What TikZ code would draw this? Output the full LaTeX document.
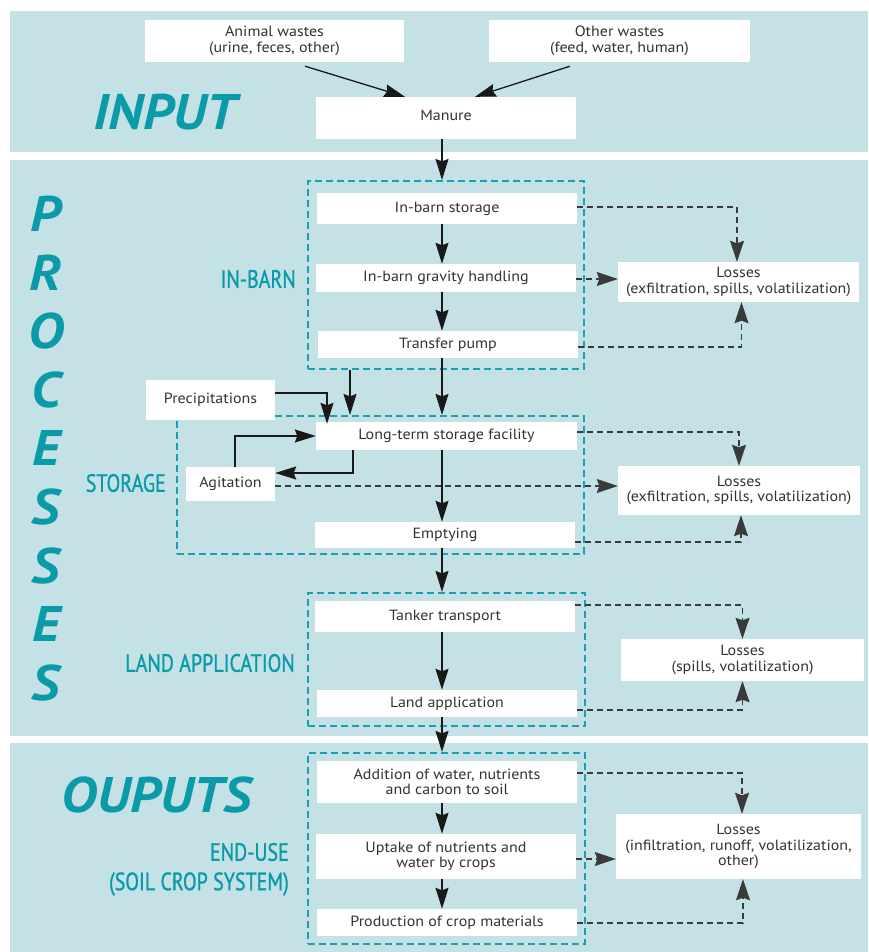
\documentclass[tikz,border=0pt]{standalone}
\usepackage{fontspec}
\setmainfont[FakeStretch=1.08]{PT Sans}
\newfontfamily\condfont[FakeStretch=0.8,FakeBold=1]{PT Sans}
\newfontfamily\bigfnt[FakeStretch=1.1]{PT Sans}
\usetikzlibrary{arrows.meta}
\definecolor{panelc}{HTML}{C4E2E6}
\definecolor{tealtx}{HTML}{0A9AA8}
\definecolor{framec}{HTML}{1AA0B2}
\definecolor{txtc}{HTML}{333333}
\definecolor{dashc}{HTML}{3A3A3A}
\tikzset{
  box/.style={fill=white, draw=none, inner sep=0pt, align=center, text=txtc,
    font=\fontsize{14.8}{15.5}\selectfont},
  grp/.style={draw=framec, line width=2.2pt, dash pattern=on 7pt off 4pt, inner sep=0pt, fill=none},
  arr/.style={-{Stealth[length=21pt,width=13pt,inset=2.5pt]}, line width=1.3pt, draw=black!90},
  dcon/.style={-{Stealth[length=21pt,width=14pt,inset=2.5pt]}, dash pattern=on 6pt off 4pt,
    line width=1.2pt, draw=dashc},
  lbl/.style={text=tealtx, inner sep=0pt, font=\condfont\fontsize{25}{28}\selectfont},
  bigl/.style={text=tealtx, inner sep=0pt, font=\bigfnt\bfseries\itshape\fontsize{50}{52}\selectfont},
}
\begin{document}
\begin{tikzpicture}[x=1pt,y=-1pt]
\useasboundingbox (0,0) rectangle (868,952);
% panels
\fill[panelc] (10,11) rectangle (868,152);
\fill[panelc] (10,160) rectangle (868,736);
\fill[panelc] (10,743) rectangle (868,952);

% INPUT
\node[box, minimum width=259pt, minimum height=42pt] (aw) at (274.5,41) {Animal wastes\\(urine, feces, other)};
\node[box, minimum width=261pt, minimum height=42pt] (ow) at (619.5,41) {Other wastes\\(feed, water, human)};
\node[box, minimum width=260pt, minimum height=42pt] (manure) at (446,118) {\raisebox{6pt}{Manure}};
\node[bigl] (tinput) at (165,112) {INPUT};
\draw[arr] ([xshift=30.5pt,yshift=-4pt]aw.south) -- ([xshift=-41pt]manure.north);
\draw[arr] ([xshift=-49.5pt,yshift=-4pt]ow.south) -- ([xshift=29pt]manure.north);

% group frames
\node[grp, minimum width=276pt, minimum height=188pt] (gInbarn) at (446,275) {};
\node[grp, minimum width=407pt, minimum height=138pt] (gStorage) at (380.5,485) {};
\node[grp, minimum width=277pt, minimum height=133pt] (gLand) at (446.5,659.5) {};
\node[grp, minimum width=277pt, minimum height=191pt] (gEnd) at (446.5,848.5) {};

% PROCESSES letters
\foreach \ch [count=\i from 0] in {P,R,O,C,E,S,S,E,S}
  \node[bigl] (pl\i) at (46,{214+58.6*\i}) {\ch};

% section labels
\node[lbl, anchor=east] (linbarn) at (296,279) {IN-BARN};
\node[lbl, anchor=east] (lstorage) at (166,483) {STORAGE};
\node[lbl, anchor=east] (lland) at (295,663) {LAND APPLICATION};
\node[bigl] (toutputs) at (157,795) {OUPUTS};
\node[lbl, anchor=east] (lend1) at (289,852) {END-USE};
\node[lbl, anchor=east] (lend2) at (289,884) {(SOIL CROP SYSTEM)};

% in-barn boxes
\node[box, minimum width=260pt, minimum height=31pt] (ibs) at (447,208.5) {In-barn storage};
\node[box, minimum width=260pt, minimum height=28pt] (ibg) at (446,278) {In-barn gravity handling};
\node[box, minimum width=260pt, minimum height=27pt] (tp) at (448,344.5) {Transfer pump};
\node[box, minimum width=241pt, minimum height=40pt] (L1) at (738.5,282) {Losses\\(exfiltration, spills, volatilization)};

% storage boxes
\node[box, minimum width=129pt, minimum height=40pt] (prec) at (210.5,400) {Precipitations};
\node[box, minimum width=261pt, minimum height=28pt] (lt) at (446.5,436) {Long-term storage facility};
\node[box, minimum width=89pt, minimum height=34pt] (agit) at (230.5,484) {Agitation};
\node[box, minimum width=260pt, minimum height=26pt] (emp) at (445,535) {Emptying};
\node[box, minimum width=242pt, minimum height=49pt] (L2) at (739,490.5) {Losses\\(exfiltration, spills, volatilization)};

% land application boxes
\node[box, minimum width=260pt, minimum height=31pt] (tt) at (445,616.5) {Tanker transport};
\node[box, minimum width=260pt, minimum height=27pt] (la) at (447,703.5) {Land application};
\node[box, minimum width=243pt, minimum height=42pt] (L3) at (742.5,660) {Losses\\(spills, volatilization)};

% end-use boxes
\node[box, minimum width=260pt, minimum height=42pt] (add) at (447,782) {Addition of water, nutrients\\and carbon to soil};
\node[box, minimum width=260pt, minimum height=45pt] (upt) at (446,856.5) {Uptake of nutrients and\\water by crops};
\node[box, minimum width=260pt, minimum height=27pt] (prod) at (447,922.5) {Production of crop materials};
\node[box, minimum width=245pt, minimum height=65pt] (L4) at (738.5,846.5) {Losses\\(infiltration, runoff, volatilization,\\other)};

% helper coordinates
\coordinate (ax) at (442,0);
\coordinate (bx) at (350,0);
\coordinate (px) at (327,0);
\coordinate (qx) at (353,0);

% main vertical flow
\draw[arr] (manure.south -| ax) -- (gInbarn.north -| ax);
\draw[arr] (ibs.south -| ax) -- (ibg.north -| ax);
\draw[arr] (ibg.south -| ax) -- (tp.north -| ax);
\draw[arr] (tp.south -| ax) -- (gStorage.north -| ax);
\draw[arr] (gInbarn.south -| bx) -- (gStorage.north -| bx);
\draw[arr] (lt.south -| ax) -- (emp.north -| ax);
\draw[arr] (emp.south -| ax) -- (gLand.north -| ax);
\draw[arr] (tt.south -| ax) -- (la.north -| ax);
\draw[arr] (la.south -| ax) -- (gEnd.north -| ax);
\draw[arr] (add.south -| ax) -- (upt.north -| ax);
\draw[arr] (upt.south -| ax) -- (prod.north -| ax);

% storage loop
\coordinate (p1) at ([yshift=7pt]prec.east);
\draw[arr] (p1) -| ([yshift=-2pt]lt.north -| px);
\draw[arr] ([xshift=4.5pt]agit.north) |- (lt.west);
\coordinate (a1) at ([yshift=11pt]agit.east);
\draw[arr] (lt.south -| qx) |- (a1);

% losses connectors: in-barn
\coordinate (c1) at ([yshift=1.5pt]ibs.east);
\draw[dcon] (c1) -| ([xshift=-1.5pt]L1.north);
\coordinate (c2) at ([yshift=-1pt]ibg.east);
\draw[dcon] (c2) -- (c2 -| L1.west);
\coordinate (c3) at ([yshift=-2.5pt]tp.east);
\draw[dcon] (c3) -| ([xshift=3pt]L1.south);

% losses connectors: storage
\coordinate (d1) at ([yshift=4pt]lt.east);
\draw[dcon] (d1) -| (L2.north);
\coordinate (d2) at ([yshift=-2pt]agit.east);
\draw[dcon] (d2) -- (d2 -| L2.west);
\coordinate (d3) at ([yshift=-7pt]emp.east);
\draw[dcon] (d3) -| ([xshift=2pt]L2.south);

% losses connectors: land application
\coordinate (e1) at ([yshift=11.5pt]tt.east);
\draw[dcon] (e1) -| (L3.north);
\coordinate (e2) at ([yshift=-6.5pt]la.east);
\draw[dcon] (e2) -| (L3.south);

% losses connectors: end-use
\coordinate (f1) at ([yshift=9pt]add.east);
\draw[dcon] (f1) -| ([xshift=3.5pt]L4.north);
\coordinate (f2) at ([yshift=-2.5pt]upt.east);
\draw[dcon] (f2) -- (f2 -| L4.west);
\coordinate (f3) at ([yshift=-0.5pt]prod.east);
\draw[dcon] (f3) -| ([xshift=4.5pt]L4.south);
\end{tikzpicture}
\end{document}
